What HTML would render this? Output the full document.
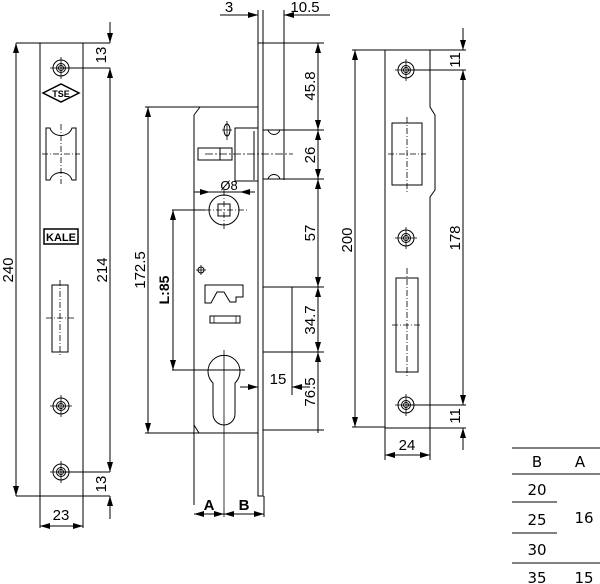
<!DOCTYPE html>
<html><head><style>html,body{margin:0;padding:0;background:#fff}svg{display:block}</style></head>
<body>
<svg width="600" height="584" viewBox="0 0 600 584" xmlns="http://www.w3.org/2000/svg" font-family="'Liberation Sans', sans-serif">
<defs>
<marker id="a" viewBox="0 0 10 6" refX="10" refY="3" markerWidth="10" markerHeight="6" orient="auto-start-reverse" markerUnits="userSpaceOnUse"><path d="M0,0L10,3L0,6z" fill="#000"/></marker>
<g id="hole"><circle r="8" fill="none" stroke="#000"/><circle r="4.5" fill="none" stroke="#000"/><circle r="2.5" fill="none" stroke="#000"/><path d="M-11,0H11M0,-11V11" stroke="#000" stroke-width="0.8"/></g>
</defs>
<g stroke="#000" stroke-width="1" fill="none">
<!-- LEFT PLATE -->
<rect x="40" y="43" width="43" height="453"/>
<path d="M16,43H110M60,68H110M60,472H110M16,496H110"/>
<path d="M16,43V496" marker-start="url(#a)" marker-end="url(#a)"/>
<path d="M110,68V472" marker-start="url(#a)" marker-end="url(#a)"/>
<path d="M110,22V43" marker-end="url(#a)"/>
<path d="M110,519V496" marker-end="url(#a)"/>
<path d="M40,496V528M83,496V528"/>
<path d="M40,526H83" marker-start="url(#a)" marker-end="url(#a)"/>
<path d="M46,128H50C53,138 69,138 72,128H76V180H72C69,170 53,170 50,180H46Z"/>
<path d="M61,124V184M42,154H80" stroke-dasharray="6,2,1,2" stroke-width="0.8"/>
<path d="M43,93L61,84L79,93L61,102Z" stroke-width="1.5"/>
<rect x="52" y="285" width="16" height="67"/>
<path d="M60,280V357M46,318H74" stroke-dasharray="6,2,1,2" stroke-width="0.8"/>
<rect x="44" y="229" width="34" height="15" stroke-width="1.5"/>
</g>
<use href="#hole" x="61" y="68"/><use href="#hole" x="61" y="406"/><use href="#hole" x="61" y="472"/>
<text x="61" y="97" font-size="9" font-weight="bold" text-anchor="middle">TSE</text>
<text x="61" y="241" font-size="11" font-weight="bold" text-anchor="middle">KALE</text>
<g font-size="15" text-anchor="middle">
<text transform="translate(13,270) rotate(-90)">240</text>
<text transform="translate(107,270) rotate(-90)">214</text>
<text transform="translate(106,55) rotate(-90)">13</text>
<text transform="translate(106,484) rotate(-90)">13</text>
<text x="61" y="520">23</text>
</g>

<!-- MIDDLE BODY -->
<g stroke="#000" stroke-width="1" fill="none">
<path d="M258,10V496H263V10M284,10V180"/>
<path d="M220,15H258" marker-end="url(#a)"/>
<path d="M330,15H284" marker-end="url(#a)"/>
<path d="M258,43H324M263,130H324M263,179H324M263,287H324M263,352H324M263,430H324"/>
<path d="M318,43V130" marker-start="url(#a)" marker-end="url(#a)"/>
<path d="M318,130V179" marker-start="url(#a)" marker-end="url(#a)"/>
<path d="M318,179V287" marker-start="url(#a)" marker-end="url(#a)"/>
<path d="M318,287V352" marker-start="url(#a)" marker-end="url(#a)"/>
<path d="M318,352V433" marker-start="url(#a)"/>
<path d="M200,107H258M194,115L200,107M194,115V505M194,433H258M194,425L199,433"/>
<path d="M145,107H200M145,433H194"/>
<path d="M148,107V433" marker-start="url(#a)" marker-end="url(#a)"/>
<rect x="235" y="128" width="23" height="53"/>
<path d="M254,131V180"/>
<path d="M263,130H284M263,179H284"/>
<path d="M268,130C270,136 278,136 280,130M268,179C270,173 278,173 280,179"/>
<rect x="198" y="148" width="34" height="12"/>
<path d="M220,148V160"/>
<path d="M205,154H293" stroke-dasharray="8,2,2,2" stroke-width="0.8"/>
<ellipse cx="227" cy="130" rx="3" ry="6"/><path d="M227,121V140M222,130H232" stroke-width="0.8"/>
<circle cx="224" cy="210" r="15"/><rect x="218" y="204" width="12" height="12"/>
<path d="M224,190V230M205,210H248" stroke-dasharray="6,2,1,2" stroke-width="0.8"/>
<path d="M194,192H210" marker-end="url(#a)"/><path d="M255,192H240" marker-end="url(#a)"/><path d="M210,192H240"/>
<path d="M172,210H205"/>
<path d="M173,210V370" marker-start="url(#a)" marker-end="url(#a)"/>
<path d="M172,370H245"/>
<path d="M213,383A16,16 0 1 1 235,383V414A11,11 0 0 1 213,414Z"/>
<path d="M224,350V517" stroke-width="0.8"/>
<path d="M205,285H243V297H236V302H230L224,292H217L211,303H205Z"/>
<circle cx="201" cy="270" r="3"/><path d="M196,270H206M201,265V275" stroke-width="0.8"/>
<rect x="210" y="316" width="30" height="7"/><path d="M214,316V323M236,316V323" stroke-width="0.7"/>
<path d="M292,287V395"/>
<path d="M240,387H258" marker-end="url(#a)"/><path d="M310,387H292" marker-end="url(#a)"/>
<path d="M194,514H224" marker-start="url(#a)" marker-end="url(#a)"/>
<path d="M224,514H264" marker-start="url(#a)" marker-end="url(#a)"/>
<path d="M264,496V517"/>
</g>
<g font-size="15" text-anchor="middle">
<text x="229" y="12">3</text>
<text x="305" y="12">10.5</text>
<text transform="translate(315,86) rotate(-90)">45.8</text>
<text transform="translate(315,155) rotate(-90)">26</text>
<text transform="translate(315,233) rotate(-90)">57</text>
<text transform="translate(315,320) rotate(-90)">34.7</text>
<text transform="translate(315,392) rotate(-90)">76.5</text>
<text transform="translate(145,270) rotate(-90)">172.5</text>
<text x="278" y="384">15</text>
<text x="229" y="190" font-size="13">Ø8</text>
<text transform="translate(169,290) rotate(-90)" font-weight="bold" font-size="14">L:85</text>
<text x="209" y="510" font-weight="bold">A</text>
<text x="244" y="510" font-weight="bold">B</text>
</g>

<!-- RIGHT STRIKE PLATE -->
<g stroke="#000" stroke-width="1" fill="none">
<path d="M385,50H430V107L435,115V190L430,197V428H385Z"/>
<path d="M352,50H466M352,427H385M406,70H466M406,405H466M430,428H466"/>
<path d="M355,50V427" marker-start="url(#a)" marker-end="url(#a)"/>
<path d="M463,70V405" marker-start="url(#a)" marker-end="url(#a)"/>
<path d="M463,28V50" marker-end="url(#a)"/>
<path d="M463,450V428" marker-end="url(#a)"/>
<path d="M385,428V460M430,428V460"/>
<path d="M385,455H430" marker-start="url(#a)" marker-end="url(#a)"/>
<rect x="392" y="123" width="30" height="62"/>
<rect x="396" y="278" width="22" height="94"/>
<path d="M407,117V192M388,154H426M407,268V378M392,325H422" stroke-dasharray="6,2,1,2" stroke-width="0.8"/>
</g>
<use href="#hole" x="406" y="70"/><use href="#hole" x="406" y="238"/><use href="#hole" x="406" y="405"/>
<g font-size="15" text-anchor="middle">
<text transform="translate(352,240) rotate(-90)">200</text>
<text transform="translate(460,238) rotate(-90)">178</text>
<text transform="translate(460,60) rotate(-90)">11</text>
<text transform="translate(460,416) rotate(-90)">11</text>
<text x="407" y="450">24</text>
</g>

<!-- TABLE -->
<g stroke="#000" stroke-width="1">
<path d="M512,448H600M512,474H600M512,502H557M512,533H557M512,563H600"/>
</g>
<g font-size="15" text-anchor="middle" font-family="'DejaVu Sans', sans-serif">
<text x="537" y="467">B</text><text x="580" y="467">A</text>
<text x="537" y="495">20</text><text x="537" y="525">25</text><text x="537" y="555">30</text><text x="537" y="583">35</text>
<text x="584" y="523">16</text><text x="584" y="583">15</text>
</g>
</svg>
</body></html>
